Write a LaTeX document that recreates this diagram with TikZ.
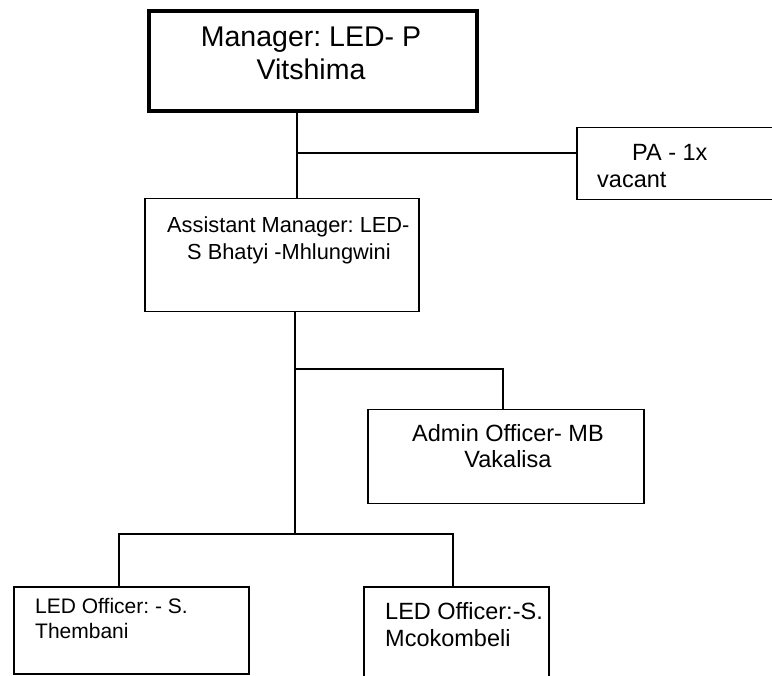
\documentclass[tikz,border=0pt]{standalone}
\usepackage{fontspec}
\setmainfont{Liberation Sans}
\begin{document}
\frenchspacing
\begin{tikzpicture}[x=1pt,y=-1pt,
  unit/.style={draw=black, line width=1.5pt, fill=white, inner sep=0pt, anchor=north west},
  head/.style={unit, line width=4pt},
  link/.style={draw=black, line width=1.5pt},
  label/.style={inner sep=0pt, font=\fontsize{#1}{#1}\selectfont}]
\useasboundingbox (0,0) rectangle (772,676);
\clip (0,0) rectangle (772,676);

% boxes
\node[head, minimum width=328pt, minimum height=100pt] (mgr) at (147,9.5) {};
\node[unit, minimum width=214pt, minimum height=72pt] (pa) at (576,127) {};
\node[unit, minimum width=274pt, minimum height=113pt] (asst) at (144,198) {};
\node[unit, minimum width=276pt, minimum height=94pt] (admin) at (367,409) {};
\node[unit, minimum width=235pt, minimum height=87pt] (offa) at (13,586) {};
\node[unit, minimum width=185pt, minimum height=114pt] (offb) at (363,586) {};

% junction points of the connectors
\coordinate (j1) at (297,153);
\coordinate (j2) at (295,369);
\coordinate (j3) at (295,534);
\coordinate (k1) at (503,369);
\coordinate (b1) at (119,534);
\coordinate (b2) at (453,534);

% connectors
\draw[link] (mgr.south -| j1) -- (asst.north -| j1);
\draw[link] (j1) -- (pa.west |- j1);
\draw[link] (asst.south -| j2) -- (j3);
\draw[link] (j2) -- (k1) -- (admin.north -| k1);
\draw[link] (offa.north -| b1) -- (b1) -- (b2) -- (offb.north -| b2);

% texts
\node[label=28.5, anchor=base] (mgrA) at (311,47) {Manager: LED- P};
\node[label=28.5, anchor=base] (mgrB) at (311,80) {Vitshima};
\node[label=23.5, anchor=base west] (paA) at (632,161) {PA - 1x};
\node[label=23.5, anchor=base west] (paB) at (597,188) {vacant};
\node[label=21.8, anchor=base west] (asstA) at (167,233) {Assistant Manager: LED-};
\node[label=21.8, anchor=base west] (asstB) at (187,260) {S Bhatyi -Mhlungwini};
\node[label=23.5, anchor=base] (adminA) at (508,442) {Admin Officer- MB};
\node[label=23.5, anchor=base] (adminB) at (508,468) {Vakalisa};
\node[label=21, anchor=base west] (offaA) at (35,613) {LED Officer: - S.};
\node[label=21, anchor=base west] (offaB) at (35,638) {Thembani};
\node[label=23.5, anchor=base west] (offbA) at (385,619) {LED Officer:-S.};
\node[label=23.5, anchor=base west] (offbB) at (385,646) {Mcokombeli};
\end{tikzpicture}
\end{document}
